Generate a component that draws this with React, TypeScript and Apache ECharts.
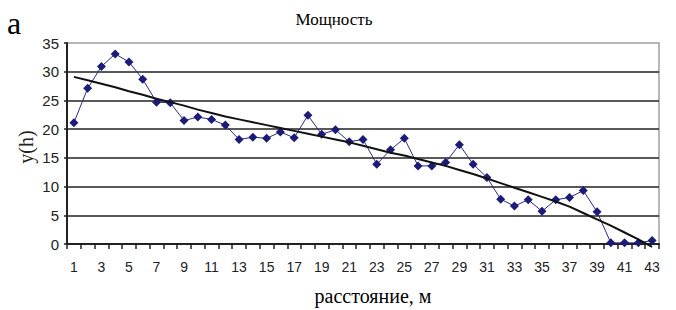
import React, { useEffect, useRef } from "react";
import * as echarts from "echarts";

const categories: string[] = Array.from({ length: 43 }, (_, i) => String(i + 1));

const powerValues: number[] = [
  21.1, 27.1, 30.9, 33.1, 31.7, 28.7, 24.7, 24.6, 21.5, 22.1,
  21.7, 20.7, 18.2, 18.6, 18.4, 19.5, 18.5, 22.4, 19.1, 19.9,
  17.8, 18.2, 13.9, 16.4, 18.4, 13.6, 13.6, 14.2, 17.3, 13.9,
  11.6, 7.8, 6.6, 7.7, 5.7, 7.7, 8.1, 9.3, 5.6, 0.2,
  0.2, 0.2, 0.6,
];

const trendValues: number[] = [
  29.1, 28.5, 27.9, 27.3, 26.6, 26.0, 25.3, 24.7, 24.1, 23.4,
  22.8, 22.2, 21.7, 21.2, 20.7, 20.2, 19.7, 19.2, 18.7, 18.2,
  17.7, 17.1, 16.5, 15.9, 15.4, 14.8, 14.2, 13.6, 12.9, 12.2,
  11.4, 10.6, 9.8, 9.0, 8.2, 7.4, 6.5, 5.4, 4.3, 3.2,
  2.0, 0.8, -0.5,
];

const titleText = "Мощность";
const panelLetter = "а";
const xAxisTitle = "расстояние, м";
const yAxisTitle = "y(h)";

export default function App() {
  const ref = useRef<HTMLDivElement>(null);

  useEffect(() => {
    if (!ref.current) return;
    const chart = echarts.init(ref.current, null, { renderer: "svg" });
    const serif = "'Liberation Serif', 'Times New Roman', serif";
    const sans = "'Liberation Sans', Arial, sans-serif";
    chart.setOption({
      animation: false,
      backgroundColor: "#ffffff",
      title: {
        text: titleText,
        left: 329,
        top: 6,
        textAlign: "center",
        textStyle: { fontFamily: serif, fontSize: 17, fontWeight: "normal", color: "#000" },
      },
      graphic: [
        {
          type: "text",
          left: 7,
          top: 7,
          style: { text: panelLetter, font: `32px ${serif}`, fill: "#000" },
        },
        {
          type: "text",
          x: 26,
          y: 147,
          rotation: Math.PI / 2,
          style: {
            text: yAxisTitle,
            font: `20px ${serif}`,
            fill: "#222",
            textAlign: "center",
            textVerticalAlign: "middle",
          },
        },
      ],
      grid: {
        left: 67,
        top: 43,
        width: 592,
        height: 201,
        show: true,
        borderColor: "#a0a0a0",
        borderWidth: 1.5,
        containLabel: false,
        outerBoundsMode: "none",
      },
      xAxis: {
        type: "category",
        data: categories,
        boundaryGap: true,
        name: xAxisTitle,
        nameLocation: "middle",
        nameGap: 42,
        nameTextStyle: { fontFamily: serif, fontSize: 20, color: "#000", padding: [0, 0, 0, 20] },
        axisLine: { show: true, lineStyle: { color: "#222", width: 2 } },
        axisTick: { show: true, interval: 0, length: 5, alignWithLabel: false, lineStyle: { color: "#222", width: 1.5 } },
        axisLabel: { interval: 1, margin: 16, fontFamily: sans, fontSize: 14, color: "#222" },
        splitLine: { show: false },
      },
      yAxis: {
        type: "value",
        min: 0,
        max: 35,
        interval: 5,
        axisLine: { show: true, lineStyle: { color: "#222", width: 2 } },
        axisTick: { show: true, length: 3, lineStyle: { color: "#222", width: 1.5 } },
        axisLabel: { margin: 8, fontFamily: sans, fontSize: 15, color: "#222" },
        splitLine: { show: true, showMinLine: false, showMaxLine: false, lineStyle: { color: "#222", width: 1.5 } },
      },
      series: [
        {
          name: "power",
          type: "line",
          data: powerValues,
          symbol: "diamond",
          symbolSize: 9,
          itemStyle: { color: "#1c1c78" },
          lineStyle: { color: "#2a2a80", width: 1 },
          z: 3,
        },
        {
          name: "trend",
          type: "line",
          data: trendValues,
          symbol: "none",
          clip: false,
          lineStyle: { color: "#111", width: 2 },
          z: 4,
        },
      ],
    });
    return () => chart.dispose();
  }, []);

  return (
    <div
      ref={ref}
      style={{ position: "fixed", left: 0, top: 0, width: 676, height: 310, background: "#fff" }}
    />
  );
}
